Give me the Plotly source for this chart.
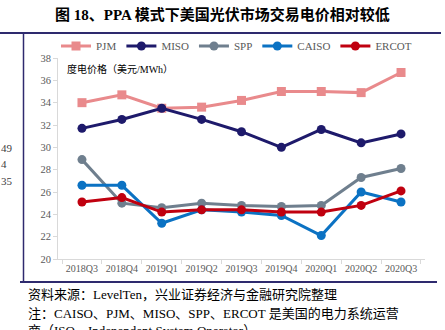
import plotly.graph_objects as go

quarters = ["2018Q3", "2018Q4", "2019Q1", "2019Q2", "2019Q3", "2019Q4", "2020Q1", "2020Q2", "2020Q3"]
pjm = [34.0, 34.7, 33.5, 33.6, 34.2, 35.0, 35.0, 34.9, 36.7]
miso = [31.7, 32.5, 33.5, 32.5, 31.4, 30.0, 31.6, 30.4, 31.2]
spp = [28.9, 25.0, 24.6, 25.0, 24.8, 24.7, 24.8, 27.3, 28.1]
caiso = [26.6, 26.6, 23.2, 24.4, 24.2, 23.9, 22.1, 26.0, 25.1]
ercot = [25.1, 25.5, 24.2, 24.4, 24.4, 24.2, 24.2, 24.8, 26.1]

series = [
    ("PJM", pjm, "#E98A8C", "square"),
    ("MISO", miso, "#1E1A6B", "circle"),
    ("SPP", spp, "#6F7F8E", "circle"),
    ("CAISO", caiso, "#0B72C3", "circle"),
    ("ERCOT", ercot, "#C0000F", "circle"),
]

SERIF = "Liberation Serif, Times New Roman, Noto Sans CJK SC, serif"

fig = go.Figure()
for name, vals, color, sym in series:
    fig.add_trace(go.Scatter(
        x=quarters, y=vals, name=name, mode="lines+markers",
        line=dict(color=color, width=3),
        marker=dict(color=color, size=9, symbol=sym),
    ))

L, R, T, B = 58, 20, 58, 71
W, H = 445, 330
pw, ph = W - L - R, H - T - B

def px(x):
    return (x - L) / pw

def py(y):
    return (H - B - y) / ph

fig.update_layout(
    width=W, height=H,
    margin=dict(l=L, r=R, t=T, b=B),
    paper_bgcolor="white", plot_bgcolor="white",
    font=dict(family=SERIF, size=11, color="#595959"),
    showlegend=True,
    legend=dict(orientation="h", x=px(56), y=py(46), xanchor="left", yanchor="middle",
                font=dict(size=11, color="#595959", family=SERIF),
                itemwidth=30, tracegroupgap=0, bgcolor="rgba(0,0,0,0)"),
    xaxis=dict(showgrid=False, showline=True, linecolor="#D9D9D9", linewidth=1,
               ticks="outside", tickson="boundaries", ticklen=4, tickcolor="#D9D9D9",
               tickangle=0,
               tickfont=dict(size=10, color="#595959", family=SERIF), zeroline=False),
    yaxis=dict(range=[20, 38], dtick=2, showgrid=False, showline=True, linecolor="#D9D9D9",
               linewidth=1, ticks="outside", ticklen=4, tickcolor="#D9D9D9",
               tickfont=dict(size=10.5, color="#595959", family=SERIF), zeroline=False),
)

annots = [
    dict(text="<b>图 18、PPA 模式下美国光伏市场交易电价相对较低</b>", x=px(222), y=py(15),
         xanchor="center", yanchor="middle", font=dict(size=15, color="#000000", family=SERIF)),
    dict(text="度电价格（美元/MWh）", x=px(65), y=py(69), xanchor="left", yanchor="middle",
         font=dict(size=10, color="#000000", family=SERIF)),
    dict(text="资料来源：LevelTen，兴业证券经济与金融研究院整理", x=px(26), y=py(294),
         xanchor="left", yanchor="middle", font=dict(size=13, color="#000000", family=SERIF)),
    dict(text="注：CAISO、PJM、MISO、SPP、ERCOT 是美国的电力系统运营", x=px(26), y=py(313),
         xanchor="left", yanchor="middle", font=dict(size=13, color="#000000", family=SERIF)),
    dict(text="商（ISO，Independent System Operator）", x=px(26), y=py(330),
         xanchor="left", yanchor="middle", font=dict(size=13, color="#000000", family=SERIF)),
    dict(text="49", x=px(-1), y=py(148), xanchor="left", yanchor="middle",
         font=dict(size=11, color="#404040", family=SERIF)),
    dict(text="4", x=px(-1), y=py(164), xanchor="left", yanchor="middle",
         font=dict(size=11, color="#404040", family=SERIF)),
    dict(text="35", x=px(-1), y=py(181), xanchor="left", yanchor="middle",
         font=dict(size=11, color="#404040", family=SERIF)),
]
for a in annots:
    a.update(xref="paper", yref="paper", showarrow=False)
    fig.add_annotation(**a)

navy = "#2E2A6E"
fig.add_shape(type="line", xref="paper", yref="paper", x0=px(0), x1=px(441), y0=py(33), y1=py(33),
              line=dict(color=navy, width=2))
fig.add_shape(type="line", xref="paper", yref="paper", x0=px(20), x1=px(437), y0=py(282), y1=py(282),
              line=dict(color=navy, width=2))
fig.add_shape(type="line", xref="paper", yref="paper", x0=px(23.5), x1=px(23.5), y0=py(33), y1=py(282),
              line=dict(color=navy, width=1.5))

fig.write_html("out.html")
